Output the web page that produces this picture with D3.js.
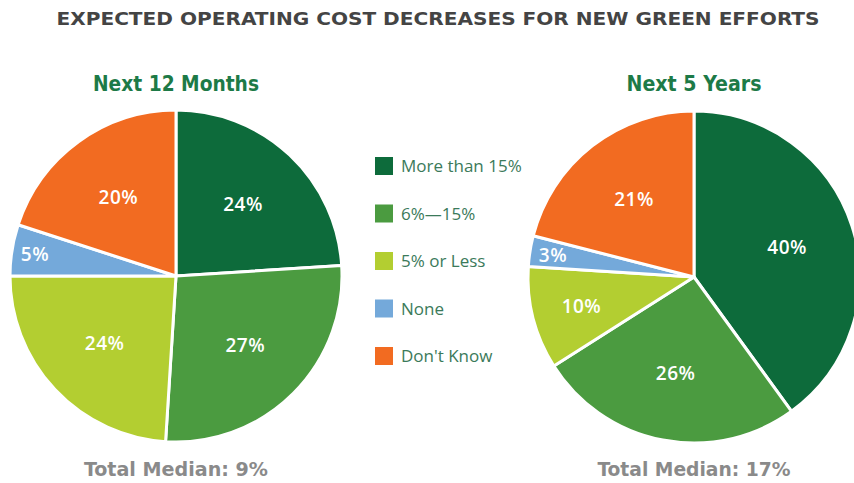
<!DOCTYPE html>
<html>
<head>
<meta charset="utf-8">
<script src="https://cdn.jsdelivr.net/npm/d3@7"></script>
<style>
  body { margin: 0; background: #fff; }
</style>
</head>
<body>
<div id="chart"></div>
<script>
// data
var categories = ["More than 15%", "6%\u201415%", "5% or Less", "None", "Don't Know"];
var months12 = [24, 27, 24, 5, 20];
var years5 = [40, 26, 10, 3, 21];
var colors = ["#0d6b3b", "#4b9b40", "#b3ce31", "#74a9da", "#f26b21"];
var medians = ["Total Median: 9%", "Total Median: 17%"];
var pieTitles = ["Next 12 Months", "Next 5 Years"];

var width = 854, height = 483;

var svg = d3.select("#chart")
  .append("svg")
  .attr("width", width)
  .attr("height", height);

var condensed = "'DejaVu Sans Condensed', 'Liberation Sans Narrow', sans-serif";
var body = "'Open Sans', Lato, sans-serif";

// main title
svg.append("text")
  .attr("x", 438)
  .attr("y", 25)
  .attr("text-anchor", "middle")
  .style("font-family", condensed)
  .style("font-weight", "bold")
  .style("font-size", "18px")
  .style("fill", "#444")
  .attr("textLength", 763)
  .attr("lengthAdjust", "spacingAndGlyphs")
  .text("EXPECTED OPERATING COST DECREASES FOR NEW GREEN EFFORTS");

var color = d3.scaleOrdinal().domain(categories).range(colors);
var radius = 166;

var pie = d3.pie()
  .sort(null)
  .value(function(d) { return d.value; });

var arc = d3.arc().innerRadius(0).outerRadius(radius);

function drawPie(values, cx, cy, title, median, titleW, medianW) {
  var data = values.map(function(v, i) { return {cat: categories[i], value: v}; });
  var g = svg.append("g")
    .attr("transform", "translate(" + cx + "," + cy + ")");

  g.selectAll("path")
    .data(pie(data))
    .enter()
    .append("path")
    .attr("d", arc)
    .attr("fill", function(d) { return color(d.data.cat); })
    .attr("stroke", "#fff")
    .attr("stroke-width", 3)
    .attr("stroke-linejoin", "round");

  // labels - small slices get pushed outward
  g.selectAll("text.val")
    .data(pie(data))
    .enter()
    .append("text")
    .attr("class", "val")
    .attr("transform", function(d) {
      var k = d.data.value <= 5 ? 0.86 : (d.data.value <= 10 ? 0.7 : 0.59);
      var a = (d.startAngle + d.endAngle) / 2;
      return "translate(" + (Math.sin(a) * radius * k) + "," + (-Math.cos(a) * radius * k) + ")";
    })
    .attr("dy", "0.36em")
    .attr("text-anchor", "middle")
    .style("font-family", body)
    .style("font-weight", "600")
    .style("font-size", "19px")
    .style("letter-spacing", "0.5px")
    .style("fill", "#fff")
    .text(function(d) { return d.data.value + "%"; });

  svg.append("text")
    .attr("x", cx)
    .attr("y", 91)
    .attr("text-anchor", "middle")
    .style("font-family", condensed)
    .style("font-weight", "bold")
    .style("font-size", "21px")
    .style("fill", "#1d7a47")
    .attr("textLength", titleW)
    .attr("lengthAdjust", "spacingAndGlyphs")
    .text(title);

  svg.append("text")
    .attr("x", cx)
    .attr("y", 476)
    .attr("text-anchor", "middle")
    .style("font-family", condensed)
    .style("font-weight", "bold")
    .style("font-size", "20px")
    .style("fill", "#8a8a8a")
    .attr("textLength", medianW)
    .attr("lengthAdjust", "spacingAndGlyphs")
    .text(median);
}

drawPie(months12, 176, 276, pieTitles[0], medians[0], 166, 184);
drawPie(years5, 694, 277, pieTitles[1], medians[1], 135, 193);

// legend
var legend = svg.append("g")
  .selectAll("g")
  .data(categories)
  .enter()
  .append("g")
  .attr("transform", function(d, i) { return "translate(375," + (157 + i * 47.5) + ")"; });

legend.append("rect")
  .attr("width", 18)
  .attr("height", 18)
  .attr("fill", function(d) { return color(d); });

legend.append("text")
  .attr("x", 26)
  .attr("y", 9)
  .attr("dy", "0.36em")
  .style("font-family", body)
  .style("font-size", "17px")
  .style("fill", "#3b7a5a")
  .text(function(d) { return d; });
</script>
</body>
</html>
